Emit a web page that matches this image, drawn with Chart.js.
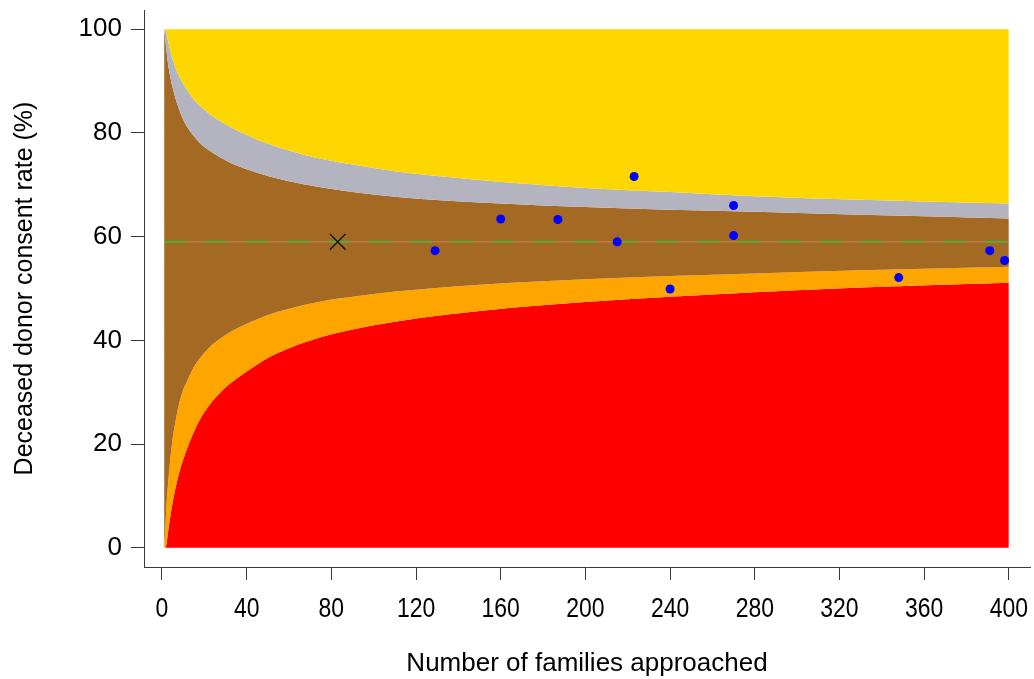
<!DOCTYPE html>
<html>
<head>
<meta charset="utf-8">
<title>Deceased donor consent rate funnel plot</title>
<script src="https://cdn.jsdelivr.net/npm/chart.js@4.4.1/dist/chart.umd.min.js"></script>
<style>
  html, body { margin: 0; padding: 0; background: #ffffff; }
  #wrap { width: 1034px; height: 679px; position: relative; }
</style>
</head>
<body>
<div id="wrap"><canvas id="funnel"></canvas></div>
<script>
// Funnel limits (families approached -> consent rate %)
const nGrid    = [1,   1.5,  2,    3,    4,    5,    6,    8,    10,   12,   15,   18,   22,   27,   33,   40,   50,   60,   75,   90,   110,  135,  165,  200,  240,  280,  330,  400];
const upper998 = [100, 99.8, 99.3, 97.5, 95.7, 94.2, 93.0, 91.0, 89.5, 88.2, 86.5, 85.2, 83.8, 82.4, 81.0, 79.6, 77.9, 76.6, 75.0, 73.9, 72.6, 71.5, 70.4, 69.4, 68.6, 67.8, 67.1, 66.4];
const upper95  = [100, 98.3, 96.2, 93.0, 90.6, 88.8, 87.2, 84.6, 82.6, 81.1, 79.4, 78.0, 76.7, 75.4, 74.1, 73.0, 71.7, 70.7, 69.5, 68.6, 67.7, 66.9, 66.3, 65.7, 65.2, 64.8, 64.2, 63.5];
const lower95  = [0,   3,    7.5,  13,   17.5, 21,   23.5, 27.7, 30.5, 32.3, 34.8, 36.6, 38.5, 40.2, 41.8, 43.2, 44.9, 46.1, 47.5, 48.4, 49.4, 50.3, 51.1, 51.8, 52.4, 52.9, 53.5, 54.2];
const lower998 = [0,   0,    0.5,  3.5,  6.3,  8.7,  10.8, 14.3, 17,   19.3, 22.3, 24.8, 27.3, 29.7, 31.9, 34.0, 36.6, 38.5, 40.6, 42.1, 43.6, 45.0, 46.3, 47.4, 48.4, 49.3, 50.2, 51.1];

// National rate (reference line) and the highlighted unit
const nationalRate = 59;
const refRange = [1, 400];
const markedUnit = { n: 83, rate: 59 };

// Individual units
const unitFamilies = [129, 160, 187, 215, 223, 240, 270, 270, 348, 391, 398];
const unitConsent  = [57.3, 63.4, 63.3, 59.0, 71.6, 49.9, 66.0, 60.2, 52.1, 57.3, 55.4];

// Axis ticks
const xTicks = [0, 40, 80, 120, 160, 200, 240, 280, 320, 360, 400];
const yTicks = [0, 20, 40, 60, 80, 100];

const COLORS = {
    yellow: '#FFD700',
    grey: '#B4B4C0',
    brown: '#A46923',
    orange: '#FFA500',
    red: '#FF0000',
    green: '#5FA63A',
    axis: '#3a3a3a'
};

const SANS = "'Liberation Sans', Arial, sans-serif";

function toPoints(xs, ys) {
    return xs.map((x, i) => ({ x: x, y: ys[i] }));
}

// filled band between curves, drawn beneath everything else
function band(data, fill, color) {
    return {
        type: 'line',
        data: data,
        order: 10,
        fill: fill,
        backgroundColor: color,
        borderWidth: 0,
        borderColor: 'rgba(0,0,0,0)',
        pointRadius: 0,
        cubicInterpolationMode: 'monotone'
    };
}

// x tick labels are condensed in the original; drawn here so that
// they do not push the plot area in from the right
const narrowXLabels = {
    id: 'narrowXLabels',
    afterDraw(chart) {
        const scale = chart.scales.x;
        const c = chart.ctx;
        c.save();
        c.font = '28px ' + SANS;
        c.fillStyle = '#000';
        c.textAlign = 'center';
        c.textBaseline = 'alphabetic';
        xTicks.forEach(v => {
            const px = scale.getPixelForValue(v);
            c.save();
            c.translate(px, 617);
            c.scale(0.82, 1);
            c.fillText(String(v), 0, 0);
            c.restore();
        });
        c.restore();
    }
};

const u998 = toPoints(nGrid, upper998);
const u95 = toPoints(nGrid, upper95);
const l95 = toPoints(nGrid, lower95);
const l998 = toPoints(nGrid, lower998);
const refLine = refRange.map(x => ({ x: x, y: nationalRate }));

const ctx = document.getElementById('funnel');

new Chart(ctx, {
    type: 'line',
    data: {
        datasets: [
            band(u998, { value: 100 }, COLORS.yellow),
            band(u95, '-1', COLORS.grey),
            band(l95, '-1', COLORS.brown),
            band(l998, '-1', COLORS.orange),
            band(l998, { value: 0 }, COLORS.red),
            {
                type: 'line',
                data: refLine,
                order: 4,
                borderColor: '#C08A52',
                borderWidth: 1,
                pointRadius: 0,
                fill: false
            },
            {
                type: 'line',
                data: refLine,
                order: 3,
                borderColor: COLORS.green,
                borderWidth: 2,
                borderDash: [22, 19],
                pointRadius: 0,
                fill: false
            },
            {
                type: 'scatter',
                data: [{ x: markedUnit.n, y: markedUnit.rate }],
                order: 2,
                pointStyle: 'crossRot',
                pointRadius: 11,
                borderColor: '#1c1c1c',
                borderWidth: 1.5
            },
            {
                type: 'scatter',
                data: toPoints(unitFamilies, unitConsent),
                order: 1,
                pointStyle: 'circle',
                pointRadius: 4.5,
                backgroundColor: '#0000FF',
                borderColor: '#0000FF',
                borderWidth: 0,
                // the plot region ends at 400, the last dot is cut there
                clip: { left: 0, top: 0, right: -21, bottom: 0 }
            }
        ]
    },
    options: {
        responsive: true,
        maintainAspectRatio: false,
        animation: false,
        layout: {
            autoPadding: false,
            padding: { top: 10, right: 4, left: 0, bottom: 0 }
        },
        plugins: {
            legend: { display: false },
            tooltip: { enabled: false }
        },
        scales: {
            x: {
                type: 'linear',
                min: -8.5,
                max: 410,
                afterBuildTicks: (scale) => { scale.ticks = xTicks.map(v => ({ value: v })); },
                afterFit: (scale) => { scale.height = 112; },
                grid: { drawOnChartArea: false, drawTicks: true, tickLength: 13, color: COLORS.axis },
                border: { display: true, color: COLORS.axis, width: 1 },
                ticks: { display: false },
                title: {
                    display: true,
                    text: 'Number of families approached',
                    color: '#000',
                    padding: { top: 0, bottom: 0 },
                    font: { family: SANS, size: 26 }
                }
            },
            y: {
                type: 'linear',
                min: -3.7,
                max: 103.7,
                afterBuildTicks: (scale) => { scale.ticks = yTicks.map(v => ({ value: v })); },
                afterFit: (scale) => {
                    scale.width = 144;
                    scale.paddingTop = 0;
                    scale.paddingBottom = 0;
                },
                grid: { drawOnChartArea: false, drawTicks: true, tickLength: 13, color: COLORS.axis },
                border: { display: true, color: COLORS.axis, width: 1 },
                ticks: {
                    color: '#000',
                    padding: 9,
                    font: { family: SANS, size: 26 }
                },
                title: {
                    display: true,
                    text: 'Deceased donor consent rate (%)',
                    color: '#000',
                    padding: { top: 10, bottom: 0 },
                    font: { family: SANS, size: 25 }
                }
            }
        }
    },
    plugins: [narrowXLabels]
});
</script>
</body>
</html>
